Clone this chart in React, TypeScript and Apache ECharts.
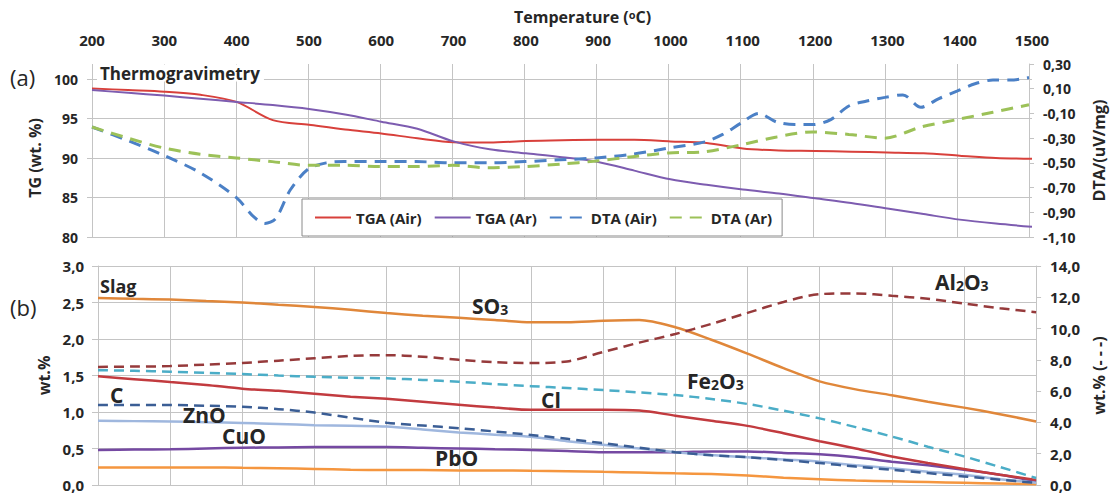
import React, { useEffect, useRef } from "react";
import * as echarts from "echarts";

// ---- panel (a): thermogravimetry ----
const tempsA = [200, 250, 300, 350, 400, 450, 500, 550, 600, 650, 700, 750, 800, 850, 900, 950, 1000, 1050, 1100, 1150, 1200, 1250, 1300, 1350, 1400, 1450, 1500];
const tgaAir = [98.8, 98.6, 98.4, 98.0, 97.1, 94.8, 94.2, 93.6, 93.1, 92.5, 92.0, 91.95, 92.15, 92.25, 92.3, 92.3, 92.1, 91.9, 91.2, 90.95, 90.9, 90.8, 90.7, 90.6, 90.3, 90.0, 89.9];
const tgaAr = [98.6, 98.25, 97.9, 97.5, 97.1, 96.7, 96.2, 95.5, 94.6, 93.7, 92.1, 91.1, 90.6, 90.1, 89.5, 88.4, 87.3, 86.6, 86.0, 85.5, 84.9, 84.3, 83.6, 82.9, 82.2, 81.7, 81.3];
const dtaAr = [-0.21, -0.3, -0.38, -0.43, -0.46, -0.49, -0.52, -0.52, -0.53, -0.53, -0.52, -0.54, -0.53, -0.51, -0.485, -0.45, -0.42, -0.41, -0.355, -0.29, -0.25, -0.27, -0.3, -0.21, -0.15, -0.09, -0.03];
const tempsDtaAir = [200, 250, 300, 350, 400, 425, 440, 455, 475, 500, 525, 550, 600, 650, 700, 750, 800, 850, 900, 950, 1000, 1050, 1075, 1100, 1125, 1150, 1175, 1200, 1225, 1250, 1275, 1300, 1325, 1350, 1375, 1400, 1425, 1450, 1475, 1500];
const dtaAir = [-0.21, -0.32, -0.44, -0.58, -0.78, -0.94, -0.99, -0.95, -0.72, -0.55, -0.5, -0.49, -0.49, -0.49, -0.5, -0.5, -0.49, -0.475, -0.46, -0.43, -0.38, -0.33, -0.27, -0.18, -0.1, -0.17, -0.19, -0.19, -0.15, -0.04, 0.0, 0.03, 0.05, -0.05, 0.02, 0.08, 0.14, 0.17, 0.17, 0.19];

// ---- panel (b): slag composition ----
const tempsB = [200, 250, 300, 350, 400, 450, 500, 550, 600, 650, 700, 750, 800, 850, 900, 950, 1000, 1050, 1100, 1150, 1200, 1250, 1300, 1350, 1400, 1450, 1500];
const so3 = [2.56, 2.55, 2.54, 2.52, 2.5, 2.47, 2.44, 2.4, 2.355, 2.32, 2.29, 2.26, 2.23, 2.23, 2.25, 2.26, 2.16, 1.99, 1.8, 1.6, 1.42, 1.31, 1.23, 1.14, 1.06, 0.97, 0.87];
const cl = [1.49, 1.45, 1.41, 1.37, 1.32, 1.29, 1.25, 1.21, 1.18, 1.14, 1.1, 1.06, 1.03, 1.03, 1.03, 1.02, 0.95, 0.88, 0.81, 0.71, 0.6, 0.5, 0.39, 0.3, 0.22, 0.14, 0.07];
const cuo = [0.88, 0.875, 0.87, 0.86, 0.85, 0.835, 0.82, 0.81, 0.8, 0.76, 0.72, 0.69, 0.66, 0.6, 0.55, 0.5, 0.45, 0.41, 0.38, 0.35, 0.32, 0.27, 0.23, 0.18, 0.14, 0.08, 0.03];
const pbo = [0.48, 0.485, 0.49, 0.5, 0.51, 0.515, 0.52, 0.52, 0.52, 0.51, 0.5, 0.49, 0.48, 0.465, 0.45, 0.45, 0.45, 0.46, 0.46, 0.44, 0.42, 0.38, 0.32, 0.27, 0.21, 0.14, 0.05];
const cLow = [0.24, 0.24, 0.24, 0.24, 0.235, 0.23, 0.22, 0.21, 0.205, 0.205, 0.2, 0.2, 0.195, 0.19, 0.18, 0.17, 0.16, 0.15, 0.13, 0.1, 0.08, 0.06, 0.05, 0.04, 0.03, 0.02, 0.01];
// dashed, right axis
const al2o3 = [7.55, 7.57, 7.6, 7.7, 7.8, 7.95, 8.1, 8.25, 8.3, 8.2, 8.0, 7.85, 7.8, 7.9, 8.5, 9.1, 9.65, 10.3, 11.0, 11.7, 12.2, 12.25, 12.1, 11.9, 11.6, 11.3, 11.05];
const fe2o3 = [7.34, 7.3, 7.24, 7.17, 7.09, 7.0, 6.92, 6.86, 6.82, 6.72, 6.6, 6.45, 6.32, 6.2, 6.07, 5.92, 5.75, 5.5, 5.18, 4.75, 4.26, 3.7, 3.1, 2.45, 1.83, 1.15, 0.45];
const zno = [5.11, 5.11, 5.11, 5.07, 5.0, 4.85, 4.63, 4.3, 3.98, 3.8, 3.63, 3.42, 3.2, 2.95, 2.67, 2.38, 2.1, 1.9, 1.78, 1.6, 1.4, 1.18, 0.97, 0.76, 0.55, 0.34, 0.13];

const legendNames = ["TGA (Air)", "TGA (Ar)", "DTA (Air)", "DTA (Ar)"];

const FONT = '"Open Sans", "Noto Sans", sans-serif';
const GRID = "#c4c4c4";
const INK = "#262626";

const pairs = (xs: number[], ys: number[]) => xs.map((x, i) => [x, ys[i]]);
const comma = (d: number) => (v: number) => v.toFixed(d).replace(".", ",");

const tickText = (size: number) => ({ fontSize: size, fontWeight: "bold", color: INK, fontFamily: FONT });
const nameText = { fontSize: 16, fontWeight: "bold", color: INK, fontFamily: FONT };

function line(name: string, data: number[][], xi: number, yi: number, color: string, width: number, dash?: number[]) {
  return {
    name,
    type: "line",
    xAxisIndex: xi,
    yAxisIndex: yi,
    data,
    symbol: "none",
    smooth: 0.3,
    silent: true,
    color,
    lineStyle: { color, width, type: dash ? dash : "solid" },
  };
}

function label(x: number, y: number, text: string, size = 21, extra: any = {}) {
  return {
    type: "text",
    x,
    y,
    z: 100,
    style: {
      text,
      fill: INK,
      font: `bold ${size}px ${FONT}`,
      align: "left",
      verticalAlign: "middle",
      rich: {
        n: { fontSize: size, fontWeight: "bold", fontFamily: FONT, fill: INK, verticalAlign: "bottom" },
        s: { fontSize: Math.round(size * 0.68), fontWeight: "bold", fontFamily: FONT, fill: INK, verticalAlign: "bottom" },
      },
      ...extra,
    },
  };
}

export default function App() {
  const ref = useRef<HTMLDivElement>(null);

  useEffect(() => {
    if (!ref.current) return;
    document.body.style.margin = "0";
    const chart = echarts.init(ref.current, undefined, { renderer: "svg" });

    const option: any = {
      animation: false,
      backgroundColor: "#fff",
      textStyle: { fontFamily: FONT },
      grid: [
        { left: 92, right: 83, top: 79, height: 158 },
        { left: 92, right: 83, top: 64, height: 173 },
        { left: 98, right: 78, top: 266, height: 219 },
      ],
      legend: {
        data: legendNames,
        left: 302,
        top: 199,
        itemWidth: 36,
        itemHeight: 6,
        itemGap: 12,
        padding: [11, 10, 11, 12],
        borderColor: "#8a8a8a",
        borderWidth: 1,
        backgroundColor: "#fff",
        selectedMode: false,
        itemStyle: { opacity: 0 },
        textStyle: { fontSize: 15, fontWeight: "bold", color: INK, fontFamily: FONT },
      },
      xAxis: [
        {
          gridIndex: 0, type: "value", min: 200, max: 1500, interval: 100, position: "top",
          axisLine: { show: false }, axisTick: { show: false }, splitLine: { show: false },
          axisLabel: { ...tickText(15), margin: 32, formatter: (v: number) => String(v) },
        },
        {
          gridIndex: 1, type: "value", min: 200, max: 1500, interval: 100,
          axisLine: { show: false }, axisTick: { show: false }, axisLabel: { show: false },
          splitLine: { show: true, lineStyle: { color: GRID, width: 1 } },
        },
        {
          gridIndex: 2, type: "value", min: 200, max: 1500, interval: 100,
          axisLine: { show: false }, axisTick: { show: false }, axisLabel: { show: false },
          splitLine: { show: true, lineStyle: { color: GRID, width: 1 } },
        },
      ],
      yAxis: [
        {
          gridIndex: 0, type: "value", min: 80, max: 100, interval: 5, position: "left",
          axisLine: { show: true, lineStyle: { color: GRID } },
          axisTick: { show: true, length: 5, lineStyle: { color: GRID } },
          splitLine: { show: true, lineStyle: { color: GRID, width: 1 } },
          axisLabel: { ...tickText(14), margin: 14 },
          name: "TG (wt. %)", nameLocation: "middle", nameGap: 42, nameTextStyle: nameText,
        },
        {
          gridIndex: 1, type: "value", min: -1.1, max: 0.3, interval: 0.2, position: "right",
          axisLine: { show: true, lineStyle: { color: GRID } },
          axisTick: { show: true, length: 5, lineStyle: { color: GRID } },
          splitLine: { show: false },
          axisLabel: { ...tickText(14), margin: 14, formatter: comma(2) },
          name: "DTA/(uV/mg)", nameLocation: "middle", nameGap: 62, nameTextStyle: nameText,
        },
        {
          gridIndex: 2, type: "value", min: 0, max: 3, interval: 0.5, position: "left",
          axisLine: { show: true, lineStyle: { color: GRID } },
          axisTick: { show: true, length: 6, lineStyle: { color: GRID } },
          splitLine: { show: true, lineStyle: { color: GRID, width: 1 } },
          axisLabel: { ...tickText(15), lineHeight: 14, margin: 14, formatter: comma(1) },
          name: "wt.%", nameLocation: "middle", nameGap: 43, nameTextStyle: nameText,
        },
        {
          gridIndex: 2, type: "value", min: 0, max: 14, interval: 2, position: "right",
          axisLine: { show: true, lineStyle: { color: GRID } },
          axisTick: { show: true, length: 5, lineStyle: { color: GRID } },
          splitLine: { show: false },
          axisLabel: { ...tickText(15), lineHeight: 14, margin: 14, formatter: comma(1) },
          name: "wt.% (- - -)", nameLocation: "middle", nameGap: 51, nameTextStyle: nameText,
        },
      ],
      series: [
        line("TGA (Air)", pairs(tempsA, tgaAir), 0, 0, "#d8403b", 2),
        line("TGA (Ar)", pairs(tempsA, tgaAr), 0, 0, "#7d5cb0", 2),
        line("DTA (Air)", pairs(tempsDtaAir, dtaAir), 1, 1, "#4b80c6", 3, [12, 8]),
        line("DTA (Ar)", pairs(tempsA, dtaAr), 1, 1, "#9cc158", 3, [12, 8]),

        line("C", pairs(tempsB, cLow), 2, 2, "#f5963f", 2.5),
        line("PbO", pairs(tempsB, pbo), 2, 2, "#7549a2", 2.5),
        line("CuO", pairs(tempsB, cuo), 2, 2, "#9fb7de", 2.5),
        line("Cl", pairs(tempsB, cl), 2, 2, "#c23b3f", 2.5),
        line("SO3", pairs(tempsB, so3), 2, 2, "#e0873a", 2.5),
        line("ZnO", pairs(tempsB, zno), 2, 3, "#3b5e95", 2.5, [10, 6]),
        line("Fe2O3", pairs(tempsB, fe2o3), 2, 3, "#4badc7", 2.5, [10, 6]),
        line("Al2O3", pairs(tempsB, al2o3), 2, 3, "#963a3b", 2.5, [10, 6]),
      ],
      graphic: [
        {
          type: "text", x: 514, y: 9, z: 100,
          style: {
            text: "{t|Temperature (}{u|o}{t|C)}",
            align: "left", verticalAlign: "top",
            rich: {
              t: { fontSize: 16, fontWeight: "bold", fontFamily: FONT, fill: INK, verticalAlign: "bottom" },
              u: { fontSize: 11, fontWeight: "bold", fontFamily: FONT, fill: INK, verticalAlign: "top" },
            },
          },
        },
        { type: "text", x: 10, y: 77, z: 100, style: { text: "(a)", fill: INK, font: `22px ${FONT}`, align: "left", verticalAlign: "middle" } },
        { type: "text", x: 10, y: 307, z: 100, style: { text: "(b)", fill: INK, font: `22px ${FONT}`, align: "left", verticalAlign: "middle" } },
        label(97, 73, "Thermogravimetry", 17, { backgroundColor: "#fff", padding: [0, 4, 0, 3] }),
        label(100, 286, "Slag", 18),
        label(472, 306, "{n|SO}{s|3}"),
        label(935, 282, "{n|Al}{s|2}{n|O}{s|3}"),
        label(687, 381, "{n|Fe}{s|2}{n|O}{s|3}"),
        label(110, 395, "C"),
        label(183, 415, "ZnO"),
        label(222, 436, "CuO"),
        label(541, 400, "Cl"),
        label(435, 458, "PbO"),
      ],
    };

    chart.setOption(option);
    return () => chart.dispose();
  }, []);

  return <div ref={ref} style={{ width: 1115, height: 495, background: "#fff" }} />;
}
